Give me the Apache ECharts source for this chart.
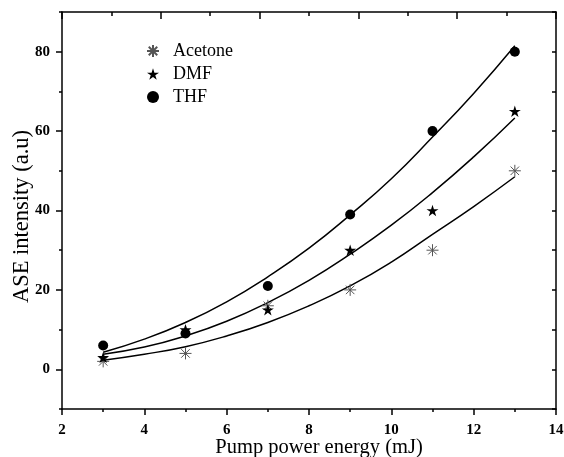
<!DOCTYPE html>
<html>
<head>
<meta charset="utf-8">
<script src="https://cdn.jsdelivr.net/npm/echarts@6/dist/echarts.min.js"></script>
<style>
html,body{margin:0;padding:0;background:#fff;}
#chart{width:564px;height:457px;}
</style>
</head>
<body>
<div id="chart"></div>
<script>
// Measured points
const energy = [3, 5, 7, 9, 11, 13];
const acetone = [2, 4, 16, 20, 30, 50];
const dmf = [3, 10, 15, 30, 40, 65];
const thf = [6, 9, 21, 39, 60, 80];

// Fitted curves
const fitX = [3, 4, 5, 6, 7, 8, 9, 10, 11, 12, 13];
const fitAcetone = [2.3, 3.8, 5.7, 8.4, 11.8, 16, 21, 27, 34, 41, 48.5];
const fitDmf = [3.8, 5.6, 8.4, 12.1, 16.8, 22.4, 29, 36.3, 44.5, 53.5, 63.3];
const fitThf = [4.3, 7.6, 11.8, 17, 23.3, 30.5, 38.9, 48, 58.5, 69.5, 81.5];

const leftTickLabels = [0, 20, 40, 60, 80];

const FONT = '"Liberation Serif", "Times New Roman", serif';
const pair = (xs, ys) => xs.map((x, i) => [x, ys[i]]);

const starPath = 'path://M0,-1 L0.223,-0.307 L0.951,-0.309 L0.361,0.117 L0.588,0.809 L0,0.38 L-0.588,0.809 L-0.361,0.117 L-0.951,-0.309 L-0.223,-0.307 Z';
const asteriskPath = 'path://M0,-1 L0,1 M-1,0 L1,0 M-0.707,-0.707 L0.707,0.707 M-0.707,0.707 L0.707,-0.707';

const chart = echarts.init(document.getElementById('chart'));
const axisLineStyle = { color: '#000', width: 1.5 };

chart.setOption({
  backgroundColor: '#fff',
  animation: false,
  grid: { left: 62, right: 8, top: 12, bottom: 48, outerBoundsMode: 'none', containLabel: false },
  legend: {
    orient: 'vertical',
    left: 141,
    top: 37,
    itemWidth: 12,
    itemHeight: 12,
    itemGap: 5,
    textStyle: { fontFamily: FONT, fontSize: 18, color: '#000', padding: [0, 0, 0, 9] },
    data: ['Acetone', 'DMF', 'THF']
  },
  xAxis: [
    {
      type: 'value', position: 'bottom', min: 2, max: 14, interval: 2,
      axisLine: { show: true, onZero: false, lineStyle: axisLineStyle },
      axisTick: { show: true, length: 6, lineStyle: { color: '#000', width: 1.5 } },
      minorTick: { show: true, splitNumber: 2, length: 3, lineStyle: { color: '#000', width: 1.5 } },
      axisLabel: { fontFamily: FONT, fontSize: 15, fontWeight: 'bold', color: '#000', margin: 14 },
      splitLine: { show: false },
      name: 'Pump power energy (mJ)', nameLocation: 'middle', nameGap: 28, nameMoveOverlap: false,
      nameTextStyle: { fontFamily: FONT, fontSize: 20.5, color: '#000', padding: [0, 0, 0, 20] }
    },
    {
      type: 'value', position: 'top', min: 0, max: 10, interval: 2,
      axisLine: { show: true, onZero: false, lineStyle: axisLineStyle },
      axisTick: { show: true, inside: true, length: 7, lineStyle: { color: '#000', width: 1.5 } },
      minorTick: { show: true, splitNumber: 2, length: 4, lineStyle: { color: '#000', width: 1.5 } },
      axisLabel: { show: false },
      splitLine: { show: false }
    }
  ],
  yAxis: [
    {
      type: 'value', position: 'left', min: -10, max: 90,
      axisLine: { show: true, onZero: false, lineStyle: axisLineStyle },
      axisTick: { show: true, length: 6, customValues: leftTickLabels, lineStyle: { color: '#000', width: 1.5 } },
      axisLabel: { customValues: leftTickLabels, fontFamily: FONT, fontSize: 15, fontWeight: 'bold', color: '#000', margin: 12 },
      splitLine: { show: false },
      name: 'ASE intensity (a.u)', nameLocation: 'middle', nameGap: 28, nameMoveOverlap: false,
      nameTextStyle: { fontFamily: FONT, fontSize: 22.5, color: '#000', padding: [0, 12, 0, 0] }
    },
    {
      type: 'value', position: 'left', min: -10, max: 90, interval: 20,
      axisLine: { show: false, onZero: false },
      axisTick: { show: true, length: 3, lineStyle: { color: '#000', width: 1.5 } },
      axisLabel: { show: false },
      splitLine: { show: false }
    },
    {
      type: 'value', position: 'right', min: -10, max: 90, interval: 10,
      axisLine: { show: true, onZero: false, lineStyle: axisLineStyle },
      axisTick: { show: true, inside: true, length: 4, lineStyle: { color: '#000', width: 1.5 } },
      axisLabel: { show: false },
      splitLine: { show: false }
    }
  ],
  series: [
    { type: 'line', data: pair(fitX, fitAcetone), smooth: true, symbol: 'none', lineStyle: { color: '#000', width: 1.5 }, silent: true },
    { type: 'line', data: pair(fitX, fitDmf), smooth: true, symbol: 'none', lineStyle: { color: '#000', width: 1.5 }, silent: true },
    { type: 'line', data: pair(fitX, fitThf), smooth: true, symbol: 'none', lineStyle: { color: '#000', width: 1.5 }, silent: true },
    {
      name: 'Acetone', type: 'scatter', data: pair(energy, acetone), symbol: asteriskPath, symbolSize: 12, z: 5,
      itemStyle: { color: 'rgba(0,0,0,0)', borderColor: '#555', borderWidth: 1, opacity: 1 }
    },
    {
      name: 'DMF', type: 'scatter', data: pair(energy, dmf), symbol: starPath, symbolSize: 12, symbolKeepAspect: true, z: 5,
      itemStyle: { color: '#000', opacity: 1 }
    },
    {
      name: 'THF', type: 'scatter', data: pair(energy, thf), symbol: 'circle', symbolSize: 10, z: 5,
      itemStyle: { color: '#000', opacity: 1 }
    }
  ]
});
</script>
</body>
</html>
